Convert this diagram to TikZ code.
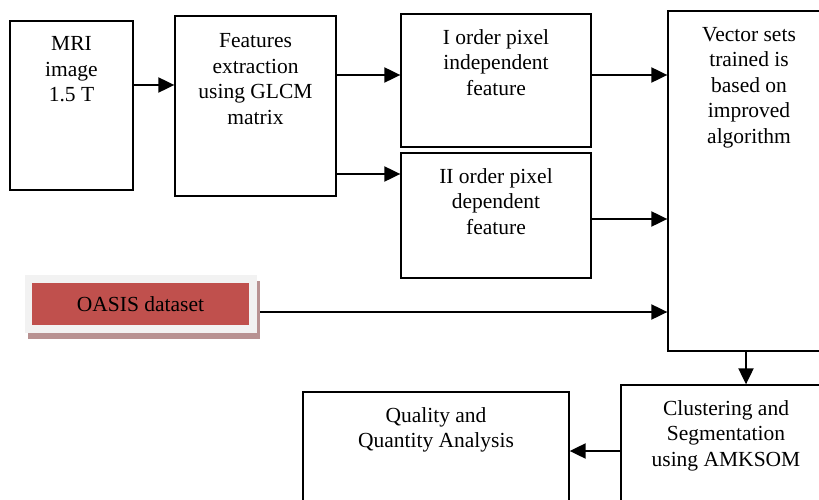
\documentclass[tikz,border=0pt]{standalone}
\usepackage{fontspec}
\setmainfont{Liberation Serif}
\usetikzlibrary{arrows.meta,calc}
\definecolor{oasisred}{RGB}{192,80,77}
\definecolor{oasisframe}{RGB}{242,242,242}
\definecolor{oasisshadow}{RGB}{184,146,146}
\begin{document}
\begin{tikzpicture}[x=1pt,y=-1pt,
  box/.style={draw=black,line width=1.3pt,fill=white,rectangle,inner sep=0pt},
  txt/.style={font=\fontsize{21.5}{25.5}\selectfont,align=center,inner sep=0pt,anchor=north},
  arr/.style={line width=2pt,-{Triangle[length=16pt,width=15pt]}}]
\useasboundingbox (0,0) rectangle (819,500);
\begin{scope}
\clip (0,0) rectangle (819,500);
% boxes
\node[box,minimum width=123pt,minimum height=169pt] (mri) at (71.5,105.5) {};
\node[box,minimum width=161pt,minimum height=180pt] (feat) at (255.5,106) {};
\node[box,minimum width=190pt,minimum height=133pt] (iord) at (496,80.5) {};
\node[box,minimum width=190pt,minimum height=125pt] (iiord) at (496,215.5) {};
\node[box,minimum width=162pt,minimum height=340pt] (vec) at (749,181) {};
\node[box,minimum width=210pt,minimum height=135pt] (clus) at (726,452.5) {};
\node[box,minimum width=266pt,minimum height=128pt] (qual) at (436,456) {};
% OASIS
\fill[oasisshadow] (28,281) rectangle (260,339);
\node[fill=oasisframe,minimum width=232pt,minimum height=58pt,inner sep=0pt] (oframe) at (141,304) {};
\node[fill=oasisred,minimum width=217pt,minimum height=42pt,inner sep=0pt,font=\fontsize{21.5}{25.5}\selectfont] (oasis) at (140.5,304) {OASIS dataset};
% texts
\node[txt] (tmri) at ([yshift=-16pt]mri.north) {MRI\\image\\1.5 T};
\node[txt] (tfeat) at ([yshift=-18pt]feat.north) {Features\\extraction\\using GLCM\\matrix};
\node[txt] (tiord) at ([yshift=-16pt]iord.north) {I order pixel\\independent\\feature};
\node[txt] (tiiord) at ([yshift=-16pt]iiord.north) {II order pixel\\dependent\\feature};
\node[txt] (tvec) at ([yshift=-16.5pt]vec.north) {Vector sets\\trained is\\based on\\improved\\algorithm};
\node[txt] (tclus) at ([yshift=-16pt]clus.north) {Clustering and\\Segmentation\\using AMKSOM};
\node[txt] (tqual) at ([yshift=-16pt]qual.north) {Quality and\\Quantity Analysis};
% connector levels
\coordinate (ya) at (0,85);
\coordinate (yb) at (0,75);
\coordinate (yc) at (0,174);
\coordinate (yd) at (0,219);
\coordinate (ye) at (0,312);
\coordinate (yf) at (0,451);
\coordinate (xg) at (746,0);
\coordinate (oend) at (260,312);
% connectors
\draw[arr] (mri.east |- ya) -- (feat.west |- ya);
\draw[arr] (feat.east |- yb) -- (iord.west |- yb);
\draw[arr] (feat.east |- yc) -- (iiord.west |- yc);
\draw[arr] (iord.east |- yb) -- (vec.west |- yb);
\draw[arr] (iiord.east |- yd) -- (vec.west |- yd);
\draw[arr] (oend) -- (vec.west |- ye);
\draw[arr] (vec.south -| xg) -- (clus.north -| xg);
\draw[arr] (clus.west |- yf) -- (qual.east |- yf);
\end{scope}
\end{tikzpicture}
\end{document}
